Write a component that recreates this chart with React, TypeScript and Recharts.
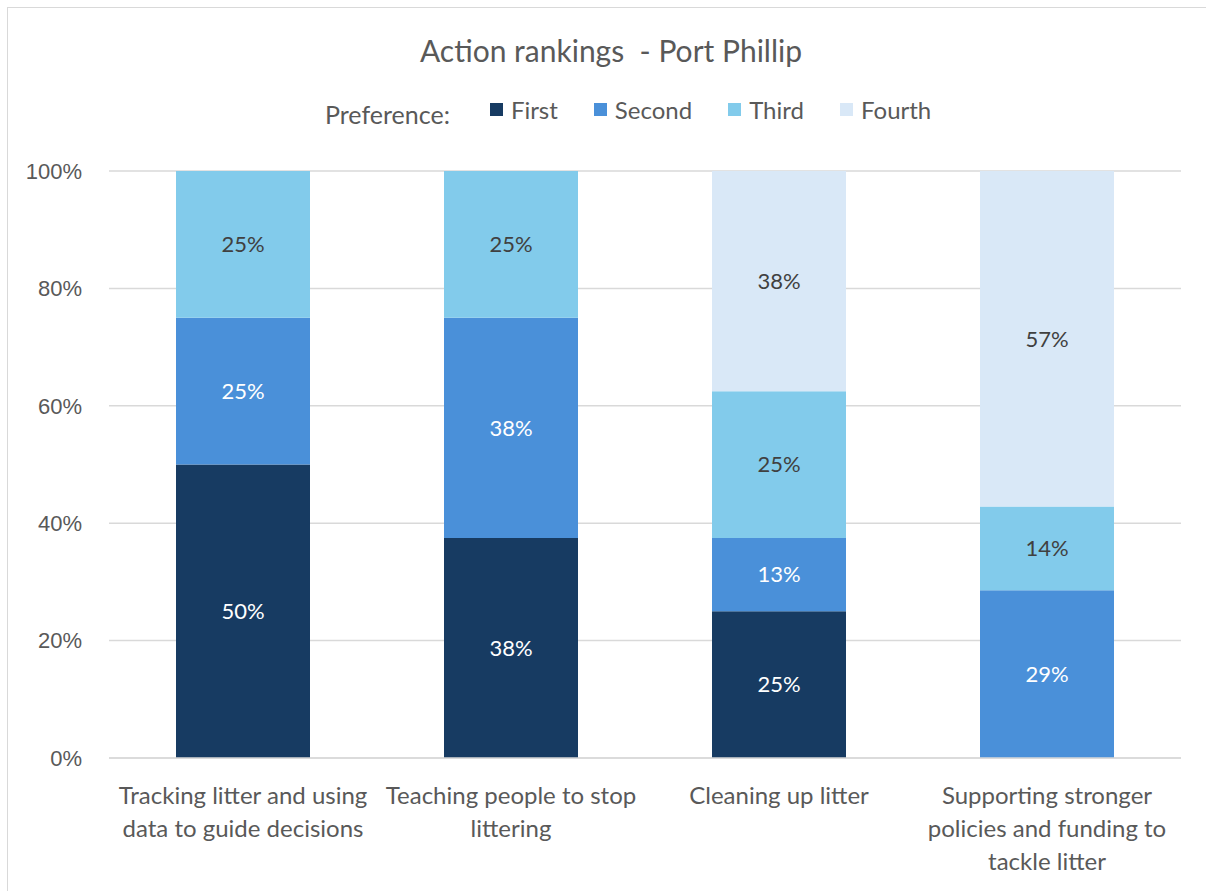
import { BarChart, Bar, XAxis, YAxis, CartesianGrid, LabelList } from "recharts";

const categories = [
  "Tracking litter and using\ndata to guide decisions",
  "Teaching people to stop\nlittering",
  "Cleaning up litter",
  "Supporting stronger\npolicies and funding to\ntackle litter",
];
const first = [50, 37.5, 25, 0];
const second = [25, 37.5, 12.5, 28.57];
const third = [25, 25, 25, 14.29];
const fourth = [0, 0, 37.5, 57.14];
const seriesNames = ["First", "Second", "Third", "Fourth"];
const seriesColors = ["#173b62", "#4a90d9", "#82cbeb", "#d9e8f7"];
const labelColors = ["#ffffff", "#ffffff", "#404040", "#404040"];
const yTicks = [0, 20, 40, 60, 80, 100];

const values = [first, second, third, fourth];
const data = categories.map((name, i) => {
  const row: any = { name };
  seriesNames.forEach((s, k) => (row[s] = values[k][i]));
  return row;
});

const FONT = "Lato, 'Open Sans', sans-serif";
const GREY = "#595959";

function CategoryTick({ x, y, payload }: any) {
  const lines = String(payload.value).split("\n");
  return (
    <g transform={`translate(${x},${y})`}>
      {lines.map((line, i) => (
        <text
          key={i}
          x={0}
          y={46 + i * 33}
          textAnchor="middle"
          fill={GREY}
          fontSize={24}
          fontFamily={FONT}
        >
          {line}
        </text>
      ))}
    </g>
  );
}

const pct = (v: any) => (Number(v) > 0 ? `${Math.round(Number(v))}%` : "");

export default function App() {
  return (
    <div
      style={{
        position: "fixed",
        left: 7,
        top: 7,
        width: 1220,
        height: 910,
        border: "1px solid #d9d9d9",
        background: "#fff",
      }}
    >
      {/* Title */}
      <div
        style={{
          position: "absolute",
          left: 0,
          top: 24,
          width: 1206,
          textAlign: "center",
          fontFamily: FONT,
          fontSize: 30,
          color: GREY,
          whiteSpace: "pre",
        }}
      >
        {"Action rankings  - Port Phillip"}
      </div>

      {/* Legend */}
      <div
        style={{
          position: "absolute",
          left: 317,
          top: 86,
          display: "flex",
          alignItems: "center",
          fontFamily: FONT,
          fontSize: 24,
          color: GREY,
        }}
      >
        <span style={{ marginRight: 40, position: "relative", top: 5, fontSize: 25 }}>Preference:</span>
        {seriesNames.map((s, k) => (
          <span key={s} style={{ display: "flex", alignItems: "center", marginRight: 36 }}>
            <span
              style={{
                display: "inline-block",
                width: 13,
                height: 13,
                background: seriesColors[k],
                marginRight: 8,
              }}
            />
            {s}
          </span>
        ))}
      </div>

      <BarChart
        width={1198}
        height={883}
        data={data}
        margin={{ top: 163, right: 25, bottom: 0, left: 0 }}
        barSize={134}
      >
        <CartesianGrid vertical={false} stroke="#d9d9d9" strokeWidth={1.5} />
        <XAxis
          dataKey="name"
          axisLine={{ stroke: "#d9d9d9", strokeWidth: 1.5 }}
          tickLine={false}
          tickSize={0}
          tickMargin={0}
          height={133}
          interval={0}
          tick={<CategoryTick />}
        />
        <YAxis
          domain={[0, 100]}
          ticks={yTicks}
          width={101}
          axisLine={false}
          tickLine={false}
          tickSize={6}
          tickMargin={21}
          tickFormatter={(v: number) => `${v}%`}
          tick={{ fill: GREY, fontSize: 22, fontFamily: "'Liberation Sans', Arial, sans-serif" }}
        />
        {seriesNames.map((s, k) => (
          <Bar key={s} dataKey={s} stackId="a" fill={seriesColors[k]} isAnimationActive={false}>
            <LabelList
              dataKey={s}
              position="center"
              formatter={pct}
              fill={labelColors[k]}
              fontSize={22}
              fontFamily={FONT}
            />
          </Bar>
        ))}
      </BarChart>
    </div>
  );
}
